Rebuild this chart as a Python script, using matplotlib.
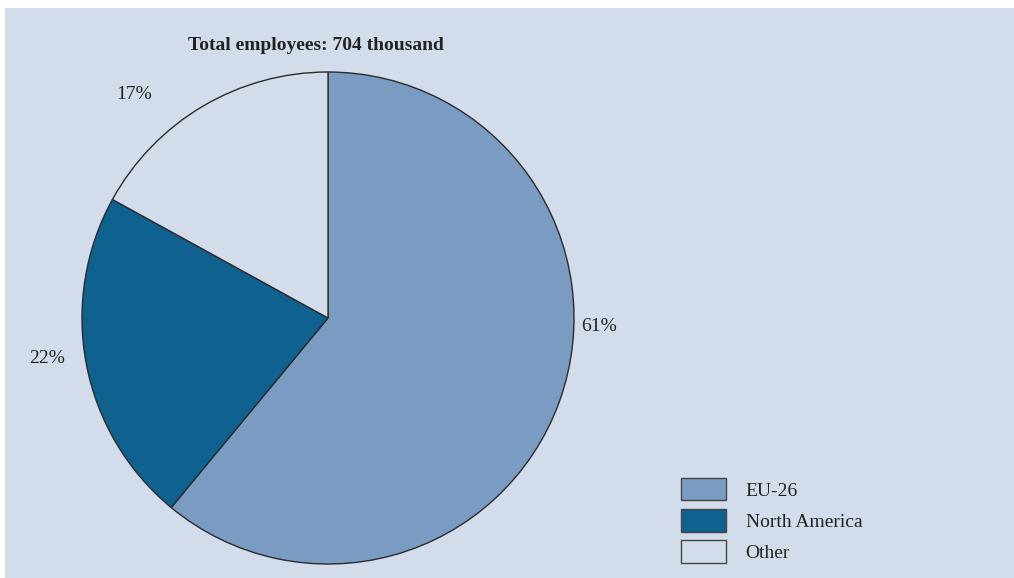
import matplotlib
matplotlib.use("Agg")
import matplotlib.pyplot as plt
from matplotlib.patches import Rectangle

# employment share by region
regions = ["EU-26", "North America", "Other"]
shares = [61, 22, 17]
colors = ["#7a9cc3", "#0f6190", "#d3dceb"]
title = "Total employees: 704 thousand"

# label anchor points, in pie-radius units
label_pos = [(1.10, -0.035), (-1.14, -0.165), (-0.79, 0.91)]

BG = "#d3dceb"
W, H = 1014, 578
CX, CY, R = 328, 318, 246   # pie centre and radius in pixels

plt.rcParams["font.family"] = ["Liberation Serif", "DejaVu Serif"]

fig = plt.figure(figsize=(W / 100, H / 100), dpi=100)
fig.patch.set_facecolor("white")
fig.patches.append(Rectangle((5 / W, 0), 1, 1 - 8 / H, transform=fig.transFigure,
                             facecolor=BG, edgecolor="none", zorder=-5))

ax = fig.add_axes([0, 0, 1, 1])
wedges, _ = ax.pie(shares, colors=colors, startangle=90, counterclock=False,
                   radius=1.0, wedgeprops=dict(edgecolor="#2b2b2b", linewidth=1.0))
ax.set_xlim(-CX / R, (W - CX) / R)
ax.set_ylim(-(H - CY) / R, CY / R)
ax.set_aspect("auto")
ax.axis("off")
ax.patch.set_visible(False)

for (x, y), s in zip(label_pos, shares):
    ax.text(x, y, f"{s}%", ha="center", va="center", fontsize=14, color="#222222")

fig.text(316 / W, 1 - 46 / H, title, ha="center", va="center",
         fontsize=14, fontweight="bold", color="#222222")

leg = fig.legend(wedges, regions, loc="upper left",
                 bbox_to_anchor=(681 / W, 1 - 478 / H), frameon=False,
                 fontsize=14, handlelength=2.32, handleheight=1.4,
                 labelspacing=0.45, handletextpad=1.0, borderpad=0, borderaxespad=0)
for t in leg.get_texts():
    t.set_color("#222222")
for h in leg.legend_handles:
    h.set_edgecolor("#444444")
    h.set_linewidth(1.0)

fig.savefig("out.png", dpi=100, facecolor=fig.get_facecolor())
